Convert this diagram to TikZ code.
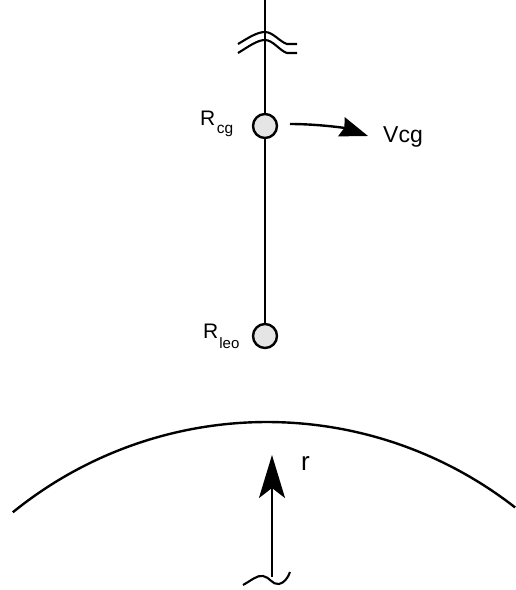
\documentclass[tikz,border=0pt]{standalone}
\usepackage{fontspec}
\setmainfont{Liberation Sans}
\usetikzlibrary{arrows.meta}
\begin{document}
\begin{tikzpicture}[x=1pt,y=-1pt,line width=2.4pt,
  mass/.style={circle,draw,fill=black!10,minimum size=24pt,inner sep=0pt,line width=2.4pt},
  lbl/.style={inner sep=0pt,anchor=base west,font=\fontsize{21}{25}\selectfont},
  brk/.style={line width=2.1pt}]
\useasboundingbox (0,0) rectangle (516,590);
% masses
\node[mass] (rcg) at (265,126) {};
\node[mass] (rleo) at (265,336) {};
\coordinate (top) at (265,0);
\draw (top) -- (rcg) -- (rleo);
% break symbol
\draw[brk] (238,44) .. controls (248,38) and (257,32) .. (265,32)
   .. controls (273,32) and (280,42) .. (287,44) -- (297,44);
\draw[brk] (238,53) .. controls (248,47) and (257,40) .. (265,40)
   .. controls (273,40) and (280,51) .. (287,53) -- (297,53);
% labels
\node[lbl] (lrcg) at (199,125) {R\kern1.5pt\raisebox{-8pt}{\fontsize{15.5}{16}\selectfont cg}};
\node[lbl] (lrleo) at (202,338) {R\kern1pt\raisebox{-10pt}{\fontsize{15}{16}\selectfont leo}};
\node[lbl,font=\fontsize{23}{27}\selectfont] (vcg) at (382,142) {Vcg};
% velocity arrow
\coordinate (vs) at (290,124);
\coordinate (ve) at (368,136);
\draw[-{Stealth[length=28pt,width=20pt,inset=3pt]}] (vs) .. controls (318,124) and (345,128) .. (ve);
% earth surface
\draw plot[domain=-39.1:38,samples=80,smooth] ({267+403*sin(\x)},{825-403*cos(\x)});
% radius arrow
\coordinate (rb) at (272,577);
\coordinate (rt) at (272,455);
\draw[-{Stealth[length=43pt,width=26pt,inset=10pt]}] (rb) -- (rt);
\node[lbl,font=\fontsize{26}{30}\selectfont] (rl) at (300,470) {r};
% bottom break
\draw[brk] (243,585) .. controls (252,580) and (257,575) .. (263,576)
   .. controls (270,577) and (272,585) .. (279,584) .. controls (284,583) and (288,578) .. (290,572);
\end{tikzpicture}
\end{document}
